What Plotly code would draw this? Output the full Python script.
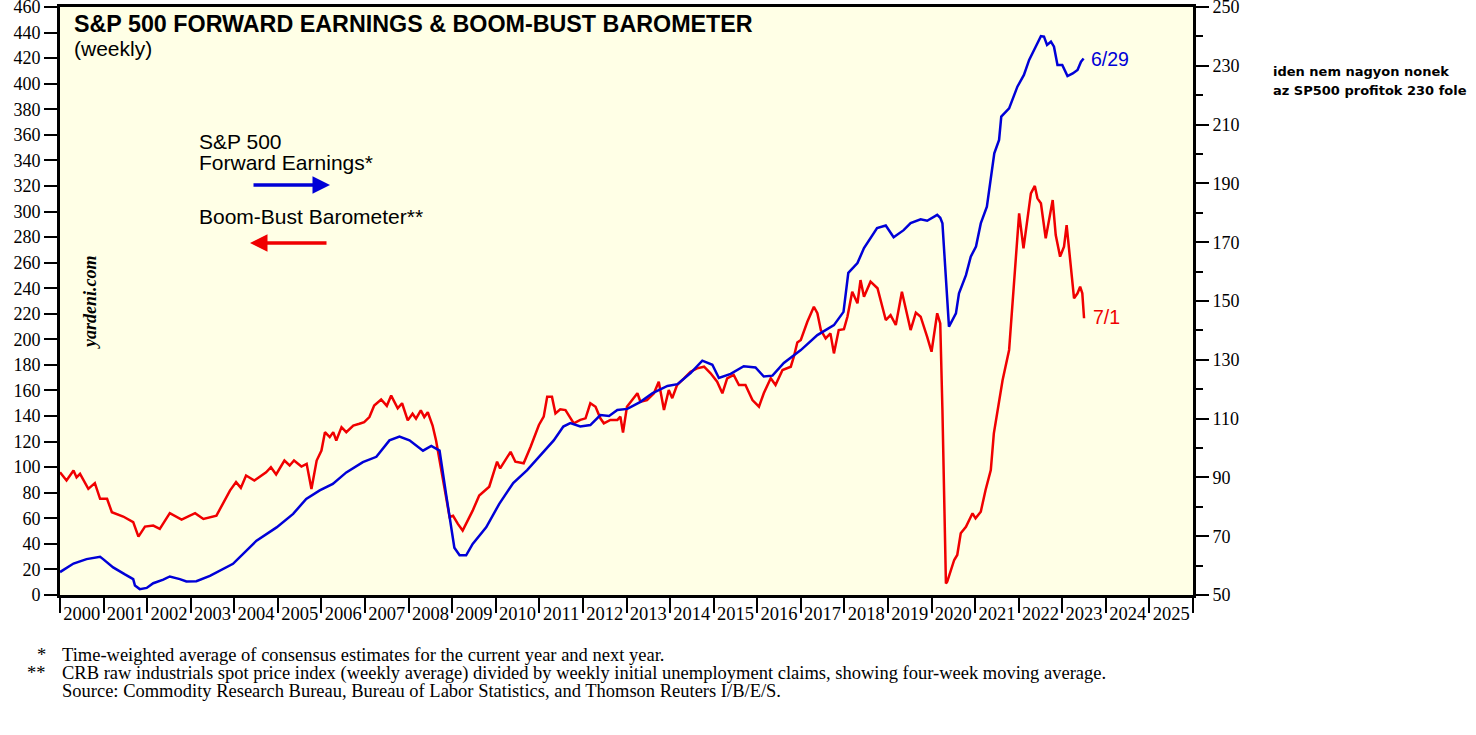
import plotly.graph_objects as go

# S&P 500 forward earnings (right axis), decimal year -> value
fe_year = [2000.0, 2000.31, 2000.61, 2000.92, 2000.99, 2001.22, 2001.49, 2001.68, 2001.72, 2001.83,
           2001.99, 2002.14, 2002.37, 2002.52, 2002.75, 2002.9, 2003.13, 2003.44, 2003.97, 2004.28,
           2004.51, 2004.97, 2005.35, 2005.65, 2005.96, 2006.26, 2006.57, 2006.95, 2007.26, 2007.56,
           2007.79, 2008.02, 2008.17, 2008.33, 2008.52, 2008.71, 2008.86, 2009.05, 2009.17, 2009.32,
           2009.47, 2009.78, 2010.08, 2010.4, 2010.72, 2011.0, 2011.33, 2011.55, 2011.71, 2011.94,
           2012.17, 2012.4, 2012.6, 2012.79, 2013.02, 2013.32, 2013.6, 2013.94, 2014.17, 2014.47,
           2014.74, 2014.97, 2015.12, 2015.39, 2015.69, 2015.96, 2016.15, 2016.35, 2016.61, 2017.0,
           2017.38, 2017.76, 2017.98, 2018.09, 2018.3, 2018.45, 2018.75, 2018.95, 2019.13, 2019.36,
           2019.52, 2019.75, 2019.9, 2020.13, 2020.2, 2020.25, 2020.4, 2020.56, 2020.63, 2020.79,
           2020.9, 2021.02, 2021.13, 2021.27, 2021.36, 2021.44, 2021.55, 2021.6, 2021.78, 2021.97,
           2022.12, 2022.24, 2022.39, 2022.51, 2022.58, 2022.65, 2022.74, 2022.81, 2022.89, 2023.0,
           2023.12, 2023.24, 2023.35, 2023.43, 2023.49]
fe_value = [57.8, 60.7, 62.2, 63.0, 62.2, 59.4, 57.0, 55.4, 53.2, 52.0,
            52.4, 54.0, 55.2, 56.3, 55.4, 54.6, 54.7, 56.5, 60.6, 65.1,
            68.5, 73.0, 77.6, 82.7, 85.6, 87.8, 91.7, 95.2, 97.0, 102.6,
            103.9, 102.6, 100.9, 99.1, 100.7, 99.1, 84.3, 66.1, 63.5, 63.5,
            67.4, 73.0, 81.0, 88.1, 92.5, 97.0, 102.6, 107.3, 108.5, 107.3,
            107.8, 111.2, 110.9, 112.9, 113.3, 115.7, 118.7, 121.1, 121.7, 125.5,
            129.7, 128.3, 123.8, 125.2, 127.8, 127.4, 124.3, 124.6, 128.9, 133.3,
            138.4, 141.8, 146.3, 159.6, 162.9, 168.0, 174.8, 175.7, 171.7, 174.1,
            176.5, 177.8, 177.3, 179.3, 178.3, 176.4, 141.3, 145.8, 152.6, 158.8,
            165.1, 168.5, 176.4, 182.1, 192.3, 200.2, 204.8, 212.7, 215.5, 222.9,
            226.9, 232.0, 236.5, 240.1, 239.9, 237.1, 238.2, 236.5, 230.3, 230.3,
            226.5, 227.4, 228.6, 231.4, 232.5]

# Boom-Bust Barometer (left axis)
bb_year = [2000.0, 2000.15, 2000.31, 2000.38, 2000.46, 2000.65, 2000.8, 2000.92, 2001.08, 2001.19,
           2001.45, 2001.68, 2001.8, 2001.95, 2002.14, 2002.29, 2002.52, 2002.79, 2003.1, 2003.29,
           2003.59, 2003.67, 2003.9, 2004.04, 2004.15, 2004.27, 2004.46, 2004.73, 2004.84, 2004.96,
           2005.15, 2005.27, 2005.37, 2005.54, 2005.66, 2005.77, 2005.89, 2006.0, 2006.08, 2006.19,
           2006.27, 2006.34, 2006.46, 2006.57, 2006.73, 2006.87, 2006.98, 2007.1, 2007.21, 2007.37,
           2007.5, 2007.6, 2007.75, 2007.85, 2007.98, 2008.09, 2008.17, 2008.28, 2008.36, 2008.44,
           2008.55, 2008.63, 2008.78, 2008.94, 2009.02, 2009.13, 2009.24, 2009.47, 2009.62, 2009.85,
           2010.03, 2010.1, 2010.34, 2010.45, 2010.64, 2010.8, 2010.99, 2011.1, 2011.18, 2011.29,
           2011.37, 2011.48, 2011.6, 2011.79, 2011.94, 2012.06, 2012.17, 2012.29, 2012.4, 2012.48,
           2012.63, 2012.79, 2012.86, 2012.92, 2013.01, 2013.17, 2013.25, 2013.32, 2013.47, 2013.63,
           2013.74, 2013.86, 2013.97, 2014.05, 2014.16, 2014.32, 2014.47, 2014.62, 2014.78, 2014.93,
           2015.08, 2015.2, 2015.31, 2015.46, 2015.58, 2015.73, 2015.89, 2016.04, 2016.15, 2016.31,
           2016.42, 2016.58, 2016.77, 2016.84, 2016.92, 2017.0, 2017.15, 2017.3, 2017.38, 2017.46,
           2017.57, 2017.68, 2017.76, 2017.87, 2017.99, 2018.07, 2018.18, 2018.3, 2018.37, 2018.45,
           2018.6, 2018.76, 2018.95, 2019.06, 2019.18, 2019.32, 2019.45, 2019.52, 2019.64, 2019.75,
           2019.9, 2020.0, 2020.13, 2020.2, 2020.25, 2020.33, 2020.36, 2020.52, 2020.59, 2020.67,
           2020.79, 2020.94, 2021.01, 2021.13, 2021.24, 2021.36, 2021.43, 2021.55, 2021.63, 2021.78,
           2021.9, 2022.01, 2022.11, 2022.2, 2022.28, 2022.37, 2022.43, 2022.51, 2022.62, 2022.78,
           2022.85, 2022.95, 2023.04, 2023.1, 2023.27, 2023.35, 2023.41, 2023.46, 2023.5]
bb_value = [96, 89.6, 97.4, 92, 94.8, 83, 87.5, 75.2, 75.2, 64.8,
            61.4, 57, 45.7, 53.5, 54.3, 51.7, 64, 59, 64, 59.5,
            62.1, 67.4, 81.7, 88.3, 83.8, 93.5, 89.6, 96, 100, 94.3,
            105.2, 101.3, 105.2, 100.5, 102.6, 83, 105.2, 113, 127.4, 123.5,
            127.4, 120.9, 131.3, 127.4, 132.6, 134, 135.2, 139.2, 148.3, 153,
            148, 156, 146, 150, 136.6, 141.8, 137.9, 144.4, 139.2, 143,
            132.6, 120.9, 92, 61, 62, 55.6, 50.4, 66, 77.8, 84.7,
            104.3, 99, 112, 104.3, 103, 116, 133, 139.5, 155, 155,
            142, 145.3, 144.7, 134.3, 137, 138.2, 150, 147.3, 138.2, 134.3,
            137, 137, 139.5, 127, 147.3, 154, 157.8, 151.2, 152.5, 157.8,
            166.9, 144.7, 160.4, 154, 164.3, 169.5, 174.7, 177.3, 178.6, 173.4,
            166.9, 157.8, 169.5, 172.1, 164.3, 164.3, 152.5, 147.3, 157.8, 169.5,
            164.3, 176, 178.6, 186.4, 197.5, 199.5, 213.8, 225.5, 220.4, 207.3,
            200.8, 204.7, 189, 207.3, 208, 217.7, 237.3, 228.2, 246.4, 233.4,
            245.1, 240, 215.1, 219, 211.2, 237.3, 219, 207.3, 220.9, 217.7,
            202, 190.3, 220.4, 212.5, 144.7, 9.1, 10.4, 27.4, 31.3, 48.3,
            53.4, 63.9, 60, 65.2, 82.1, 97.8, 126.5, 150, 168, 191.7,
            243.8, 298.6, 271.2, 292, 314.2, 320, 310.3, 306.4, 279, 309,
            281.6, 264.7, 272.5, 289.4, 232.1, 236, 241.2, 236, 216.5]

years = list(range(2000, 2026))
left_ticks = list(range(0, 461, 20))
right_ticks = list(range(50, 251, 20))

BLUE = "rgb(0,0,215)"
RED = "rgb(240,0,0)"
SERIF = "Liberation Serif"
SANS = "Liberation Sans"

fig = go.Figure()
fig.add_trace(go.Scatter(x=bb_year, y=bb_value, mode="lines", line=dict(color=RED, width=2.5),
                         yaxis="y", showlegend=False))
fig.add_trace(go.Scatter(x=fe_year, y=fe_value, mode="lines", line=dict(color=BLUE, width=2.5),
                         yaxis="y2", showlegend=False))

fig.update_layout(
    width=1476, height=735,
    margin=dict(l=60, r=283, t=7, b=140, autoexpand=False),
    paper_bgcolor="white",
    plot_bgcolor="rgb(255,255,230)",
    xaxis=dict(range=[2000, 2026], tickmode="array", automargin=False,
               tickvals=[y + 0.5 for y in years], ticktext=[str(y) for y in years],
               ticks="", showgrid=False, zeroline=False,
               showline=True, linewidth=3, linecolor="black", mirror=True,
               tickfont=dict(family=SERIF, size=18.5, color="black"),
               minor=dict(tickmode="linear", tick0=2000, dtick=1, ticks="outside",
                          ticklen=15, tickwidth=2, tickcolor="black", showgrid=False)),
    yaxis=dict(range=[0, 460], tickmode="array", tickvals=left_ticks, automargin=False,
               ticks="outside", ticklen=13, tickwidth=1.5, tickcolor="black",
               ticklabeloverflow="allow",
               showgrid=False, zeroline=False,
               showline=True, linewidth=3, linecolor="black",
               tickfont=dict(family=SERIF, size=18, color="black")),
    yaxis2=dict(range=[50, 250], overlaying="y", side="right", tickmode="array",
                tickvals=right_ticks, ticks="outside", ticklen=13, tickwidth=1.5,
                tickcolor="black", showgrid=False, zeroline=False, automargin=False,
                ticklabeloverflow="allow",
                showline=True, linewidth=3, linecolor="black",
                tickfont=dict(family=SERIF, size=18, color="black"),
                minor=dict(tickmode="linear", tick0=50, dtick=10, ticks="outside",
                           ticklen=7, tickwidth=1.5, tickcolor="black", showgrid=False)),
)


def px(x):
    return (x - 60) / 1133


def py(y):
    return (595 - y) / 588


ann = []


def text(x, y, s, size, color="black", family=SANS, xanchor="left", **kw):
    ann.append(dict(x=px(x), y=py(y), xref="paper", yref="paper", text=s, showarrow=False,
                    xanchor=xanchor, yanchor="middle", align="left",
                    font=dict(family=family, size=size, color=color), **kw))


text(72, 24, "<b>S&P 500 FORWARD EARNINGS & BOOM-BUST BAROMETER</b>", 23.3)
text(72, 48, "(weekly)", 21)
text(197, 141, "S&P 500", 21)
text(197, 162, "Forward Earnings*", 21)
text(197, 216, "Boom-Bust Barometer**", 21)
text(1089, 59, "6/29", 19.5, color=BLUE)
text(1091, 317, "7/1", 19.5, color=RED)
text(1271, 72, "<b>iden nem nagyon nonek</b>", 13, family="DejaVu Sans")
text(1271, 90, "<b>az SP500 profitok 230 fole</b>", 13, family="DejaVu Sans")
ann.append(dict(x=px(78), y=py(302), xref="paper", yref="paper",
                text="<b><i>yardeni.com</i></b>", showarrow=False, textangle=-90,
                font=dict(family=SERIF, size=18, color="black")))

# arrows (tail offset in pixels)
ann.append(dict(x=px(330), y=py(185), ax=-78, ay=0, xref="paper", yref="paper",
                text="", showarrow=True, arrowhead=2,
                arrowsize=1, arrowwidth=3.5, arrowcolor=BLUE))
ann.append(dict(x=px(250), y=py(243), ax=78, ay=0, xref="paper", yref="paper",
                text="", showarrow=True, arrowhead=2,
                arrowsize=1, arrowwidth=3.5, arrowcolor=RED))

# footnotes
text(48, 655, "*", 18.5, family=SERIF, xanchor="right")
text(60, 655, "Time-weighted average of consensus estimates for the current year and next year.", 18.5, family=SERIF)
text(48, 673, "**", 18.5, family=SERIF, xanchor="right")
text(60, 673, "CRB raw industrials spot price index (weekly average) divided by weekly initial unemployment claims, showing four-week moving average.", 18.5, family=SERIF)
text(60, 691, "Source: Commodity Research Bureau, Bureau of Labor Statistics, and Thomson Reuters I/B/E/S.", 18.5, family=SERIF)

fig.update_layout(annotations=ann)
fig.write_html("out.html", config={"displayModeBar": False},
               post_script="document.body.style.margin='0';")
